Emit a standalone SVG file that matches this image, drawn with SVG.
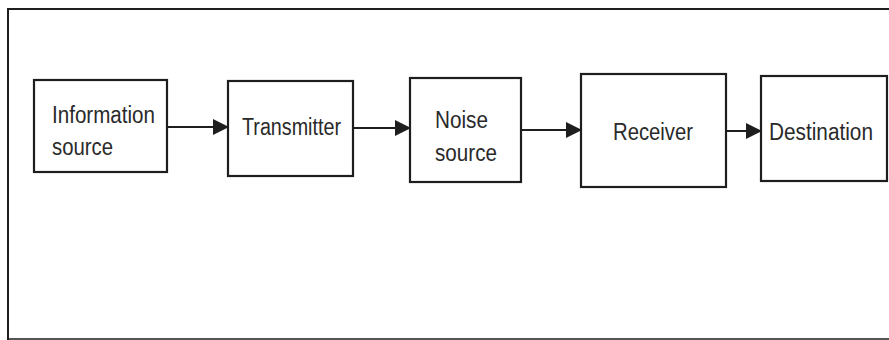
<svg xmlns="http://www.w3.org/2000/svg" width="889" height="340" viewBox="0 0 889 340">
<style>
.box{fill:#fff;stroke:#1e1e1e;stroke-width:2.2}
.lbl{font-family:"Liberation Sans",Arial,sans-serif;font-size:23px;fill:#2a2a2a}
.conn{stroke:#1e1e1e;stroke-width:2.2;fill:none}
</style>
<defs>
<marker id="ah" markerWidth="16" markerHeight="16" refX="15" refY="8" orient="auto" markerUnits="userSpaceOnUse">
<path d="M0,0 L16,8 L0,16 Z" fill="#1e1e1e"/>
</marker>
</defs>
<rect x="0" y="0" width="889" height="340" fill="#fff"/>
<path d="M8,340 L8,9 L889,9" fill="none" stroke="#1e1e1e" stroke-width="2"/>
<line x1="8" y1="339" x2="889" y2="339" stroke="#1e1e1e" stroke-width="1.5"/>
<g id="n1">
<rect class="box" x="34" y="80" width="133" height="92"/>
<text class="lbl" x="52" y="123" textLength="103" lengthAdjust="spacingAndGlyphs">Information</text>
<text class="lbl" x="52" y="155" textLength="61" lengthAdjust="spacingAndGlyphs">source</text>
</g>
<g id="n2">
<rect class="box" x="228" y="81" width="125" height="95"/>
<text class="lbl" x="242" y="135" textLength="99" lengthAdjust="spacingAndGlyphs">Transmitter</text>
</g>
<g id="n3">
<rect class="box" x="410" y="78" width="111" height="104"/>
<text class="lbl" x="435" y="128" textLength="53" lengthAdjust="spacingAndGlyphs">Noise</text>
<text class="lbl" x="435" y="161" textLength="62" lengthAdjust="spacingAndGlyphs">source</text>
</g>
<g id="n4">
<rect class="box" x="581" y="74" width="145" height="113"/>
<text class="lbl" x="613" y="140" textLength="80" lengthAdjust="spacingAndGlyphs">Receiver</text>
</g>
<g id="n5">
<rect class="box" x="761" y="76" width="126" height="105"/>
<text class="lbl" x="769" y="140" textLength="104" lengthAdjust="spacingAndGlyphs">Destination</text>
</g>
<g id="connectors">
<line class="conn" x1="167" y1="127" x2="228" y2="127" marker-end="url(#ah)"/>
<line class="conn" x1="353" y1="128" x2="410" y2="128" marker-end="url(#ah)"/>
<line class="conn" x1="521" y1="130" x2="581" y2="130" marker-end="url(#ah)"/>
<line class="conn" x1="726" y1="131" x2="761" y2="131" marker-end="url(#ah)"/>
</g>
</svg>
